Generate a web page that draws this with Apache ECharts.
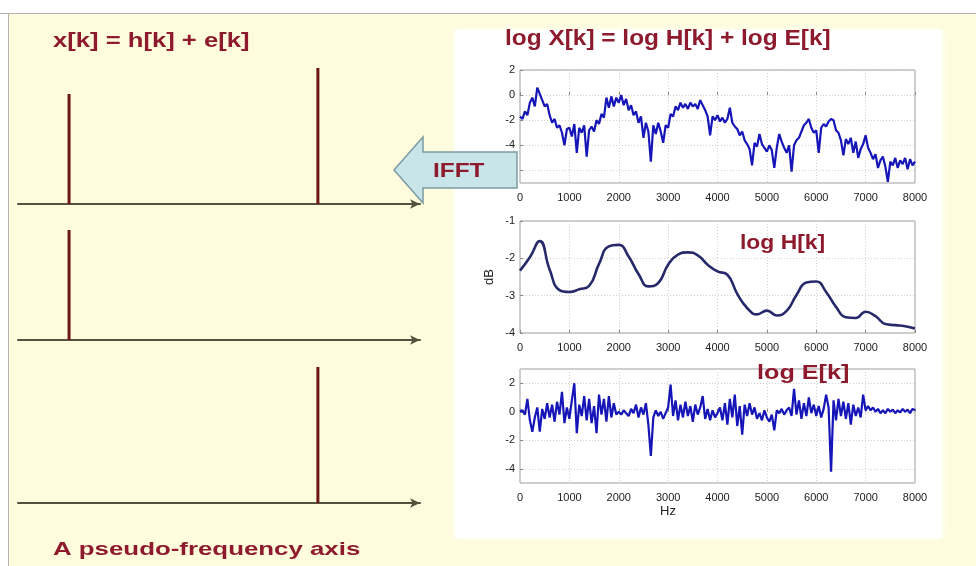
<!DOCTYPE html>
<html>
<head>
<meta charset="utf-8">
<script src="https://cdn.jsdelivr.net/npm/echarts@6/dist/echarts.min.js"></script>
<style>
  html, body { margin: 0; padding: 0; background: #ffffff; }
  #chart { width: 976px; height: 566px; }
</style>
</head>
<body>
<div id="chart"></div>
<script>
// Cepstral view of speech: the pseudo-frequency (quefrency) picture on the left,
// x[k] = h[k] + e[k], and the log spectra log X = log H + log E on the right.

// Left panel: stem positions on the pseudo-frequency axis and stem heights
const stemPositions = [12.7, 74.6];      // h-stem, e-stem
const hStemHeight = 1.1;
const eStemHeight = 1.36;

// Right panel: frequency grid
const freqMaxHz = 8000;
const freqTickHz = 1000;
const spectrumStepHz = 50;
const envelopeStepHz = 200;

// log X[k], one value every 50 Hz from 0 to 8000 Hz
const logX = [
  -1.7, -1.9, -1.3, -1.6, -0.6, -0.2, -0.9, 0.6, 0.1, -0.4, -0.9, -0.7, -1.6, -2.2, -1.9, -2.6, -2.4, -3.0, -4.0, -2.7,
  -2.6, -3.3, -2.3, -4.6, -2.6, -3.0, -2.4, -4.9, -2.8, -2.5, -2.9, -2.0, -2.3, -1.5, -1.8, -0.2, -1.0, -0.1, -0.9, -0.2,
  -0.6, 0.0, -0.8, -0.3, -1.2, -0.8, -1.6, -1.3, -2.2, -1.7, -3.4, -2.2, -2.9, -5.3, -2.4, -3.1, -2.2, -2.9, -3.8, -2.4,
  -2.6, -1.5, -1.7, -0.9, -1.2, -0.6, -1.0, -0.7, -1.1, -0.6, -0.9, -0.7, -1.1, -0.4, -0.8, -1.2, -1.7, -3.2, -1.7, -2.0,
  -1.6, -2.1, -1.8, -2.2, -1.9, -1.0, -2.2, -2.5, -2.7, -3.2, -2.9, -3.6, -3.9, -4.3, -5.6, -3.8, -4.1, -3.1, -3.9, -4.2,
  -4.5, -4.0, -4.4, -5.8, -4.2, -3.1, -3.7, -4.2, -4.6, -4.0, -6.1, -4.0, -3.6, -3.4, -2.9, -2.4, -2.2, -1.9, -2.6, -3.0,
  -2.8, -4.6, -2.6, -2.3, -2.5, -2.1, -1.9, -2.0, -2.8, -3.0, -3.6, -4.8, -3.5, -3.9, -3.4, -4.6, -3.7, -5.0, -4.3, -3.9,
  -3.2, -4.2, -4.6, -5.1, -4.7, -5.8, -5.2, -4.9, -5.7, -6.9, -5.3, -5.6, -5.0, -5.8, -5.2, -5.5, -5.0, -5.9, -5.1, -5.6,
  -5.3
];

// log H[k] (spectral envelope), one value every 200 Hz from 0 to 8000 Hz
const logH = [
  -2.33, -1.97, -1.54, -2.30, -2.85, -2.90, -2.83, -2.74, -2.15, -1.68,
  -1.64, -1.95, -2.42, -2.75, -2.66, -2.17, -1.90, -1.84, -1.92, -2.17,
  -2.35, -2.44, -2.95, -3.33, -3.50, -3.40, -3.53, -3.41, -2.98, -2.65,
  -2.62, -2.90, -3.30, -3.58, -3.60, -3.43, -3.55, -3.76, -3.79, -3.82,
  -3.88
];

// log E[k] (excitation), one value every 50 Hz from 0 to 8000 Hz
const logE = [
  0.0, 0.1, -0.2, 0.9, -0.6, -1.4, -0.4, 0.3, -1.4, 0.2, -0.5, 0.6, -0.4, 0.5, -0.7, 0.7, -0.2, 1.4, -0.8, 0.3,
  -0.5, 0.8, 2.0, -1.5, 0.5, -0.3, 1.1, -0.6, 0.9, -0.8, 0.4, -1.5, 1.2, -0.2, 0.9, -0.7, 1.1, -0.4, 0.6, -0.2,
  0.0, -0.2, 0.1, -0.1, -0.3, 0.2, -0.1, 0.5, -0.4, 0.3, -0.2, 0.6, -0.9, -3.1, -0.4, 0.1, -0.3, 0.0, -0.5, -0.1,
  0.3, 1.9, -0.3, 0.8, -0.6, 0.5, -0.4, 0.7, -0.3, 0.4, -0.7, 0.5, -0.2, 0.3, 1.1, -0.5, 0.2, -0.6, 0.1, -0.4,
  -0.1, 0.3, -0.6, 0.6, -0.9, 0.9, -0.4, 1.2, -1.0, 0.4, -1.6, 0.5, -0.3, 0.6, -0.2, 0.3, -0.5, -0.1, -0.6, 0.1,
  -0.4, -0.7, -0.2, -1.3, 0.1, -0.1, 0.2, -0.2, 0.1, 0.3, -0.3, 1.6, -0.2, 0.8, -0.5, 0.6, -0.3, 1.0, -0.1, 0.5,
  -0.3, 0.4, -0.4, 0.2, 1.2, 0.3, -4.2, 0.8, -0.6, 0.9, -0.3, 0.7, -0.5, 0.6, -0.9, 0.5, -0.3, 0.3, -0.4, 1.2,
  0.1, 0.4, 0.1, 0.3, 0.0, 0.2, -0.1, 0.1, -0.1, 0.2, 0.0, 0.15, -0.1, 0.1, -0.05, 0.2, 0.0, 0.15, -0.1, 0.2,
  0.1
];

const toPairs = (values, step) => values.map((v, i) => [i * step, v]);

const RED = '#8e1b2d';
const STEM = '#6b1717';
const TRACE = '#1616b8';
const FONT = "'Liberation Sans', Arial, sans-serif";

const chart = echarts.init(document.getElementById('chart'), null, { renderer: 'canvas' });

// ----- left panel: three pseudo-frequency axes -----
const leftGrids = [
  { left: 18, top: 54, width: 402, height: 150 },
  { left: 18, top: 190, width: 402, height: 150 },
  { left: 18, top: 353, width: 402, height: 150 }
];
// ----- right panel: three spectra -----
const rightGrids = [
  { left: 520, top: 70, width: 395, height: 113 },
  { left: 520, top: 221, width: 395, height: 112 },
  { left: 520, top: 369, width: 395, height: 114 }
];

const grids = leftGrids.map(g => Object.assign({ outerBoundsMode: 'none', containLabel: false }, g))
  .concat(rightGrids.map(g => Object.assign({
    show: true, backgroundColor: '#ffffff', borderColor: '#9d9d9d', borderWidth: 1,
    outerBoundsMode: 'none', containLabel: false
  }, g)));

const leftXAxis = i => ({
  type: 'value', gridIndex: i, min: 0, max: 100,
  axisLine: {
    show: true, onZero: false, symbol: ['none', 'arrow'], symbolSize: [7, 10],
    lineStyle: { color: '#55513d', width: 2 }
  },
  axisTick: { show: false }, axisLabel: { show: false }, splitLine: { show: false }
});
const leftYAxis = i => ({ type: 'value', gridIndex: i, min: 0, max: 1.5, show: false });

const plainNumber = v => String(v);
const tickLabel = { color: '#222222', fontSize: 11, fontFamily: FONT, formatter: plainNumber };
const gridLine = { show: true, lineStyle: { color: '#d0d0d0', type: [1, 2], width: 1 } };
const inTick = { show: true, inside: true, length: 3, lineStyle: { color: '#8a8a8a' } };

const rightXAxis = i => ({
  type: 'value', gridIndex: i, min: 0, max: freqMaxHz, interval: freqTickHz,
  axisLine: { show: false },
  axisTick: inTick,
  axisLabel: Object.assign({ margin: 9 }, tickLabel),
  splitLine: gridLine
});
const rightYAxis = (i, extra) => Object.assign({
  type: 'value', gridIndex: i,
  axisLine: { show: false },
  axisTick: inTick,
  axisLabel: Object.assign({ margin: 5 }, tickLabel),
  splitLine: gridLine
}, extra);

const option = {
  backgroundColor: '#fefcdc',
  animation: false,
  grid: grids,
  xAxis: [leftXAxis(0), leftXAxis(1), leftXAxis(2), rightXAxis(3), rightXAxis(4), rightXAxis(5)],
  yAxis: [
    leftYAxis(0), leftYAxis(1), leftYAxis(2),
    rightYAxis(3, { min: -7, max: 2, splitNumber: 5,
      axisLabel: Object.assign({ margin: 5, showMinLabel: false }, tickLabel) }),
    rightYAxis(4, { min: -4, max: -1, interval: 1,
      name: 'dB', nameLocation: 'middle', nameGap: 24, nameRotate: 90,
      nameTextStyle: { color: '#222222', fontSize: 13, fontFamily: FONT } }),
    rightYAxis(5, { min: -5, max: 3, splitNumber: 4,
      axisLabel: Object.assign({ margin: 5, showMinLabel: false, showMaxLabel: false }, tickLabel) })
  ],
  series: [
    { // x[k] = h[k] + e[k]
      type: 'bar', xAxisIndex: 0, yAxisIndex: 0, barWidth: 3, silent: true,
      itemStyle: { color: STEM },
      data: [[stemPositions[0], hStemHeight], [stemPositions[1], eStemHeight]]
    },
    { // h[k]
      type: 'bar', xAxisIndex: 1, yAxisIndex: 1, barWidth: 3, silent: true,
      itemStyle: { color: STEM },
      data: [[stemPositions[0], hStemHeight]]
    },
    { // e[k]
      type: 'bar', xAxisIndex: 2, yAxisIndex: 2, barWidth: 3, silent: true,
      itemStyle: { color: STEM },
      data: [[stemPositions[1], eStemHeight]]
    },
    {
      name: 'log X[k]', type: 'line', xAxisIndex: 3, yAxisIndex: 3,
      showSymbol: false, silent: true,
      lineStyle: { color: TRACE, width: 2.2 },
      data: toPairs(logX, spectrumStepHz)
    },
    {
      name: 'log H[k]', type: 'line', xAxisIndex: 4, yAxisIndex: 4,
      showSymbol: false, silent: true, smooth: 0.5,
      lineStyle: { color: '#272a6a', width: 2.6 },
      data: toPairs(logH, envelopeStepHz)
    },
    {
      name: 'log E[k]', type: 'line', xAxisIndex: 5, yAxisIndex: 5,
      showSymbol: false, silent: true,
      lineStyle: { color: TRACE, width: 2.2 },
      data: toPairs(logE, spectrumStepHz)
    }
  ],
  graphic: {
    elements: [
      // page frame and the white panel behind the spectra
      { type: 'rect', silent: true, z: -20, shape: { x: 0, y: 0, width: 976, height: 13 }, style: { fill: '#ffffff' } },
      { type: 'rect', silent: true, z: -20, shape: { x: 0, y: 13, width: 8, height: 553 }, style: { fill: '#ffffff' } },
      { type: 'rect', silent: true, z: -19, shape: { x: 455, y: 30, width: 487, height: 508 },
        style: { fill: '#ffffff', shadowBlur: 8, shadowColor: 'rgba(255,255,255,0.9)' } },
      { type: 'line', silent: true, z: -18, shape: { x1: 0, y1: 13.5, x2: 976, y2: 13.5 }, style: { stroke: '#b2b2b2', lineWidth: 1 } },
      { type: 'line', silent: true, z: -18, shape: { x1: 8.5, y1: 13, x2: 8.5, y2: 566 }, style: { stroke: '#b2b2b2', lineWidth: 1 } },

      // IFFT arrow
      { type: 'polygon', silent: true, z: 50,
        shape: { points: [[394, 170], [423, 137], [423, 152], [517, 152], [517, 188], [423, 188], [423, 203]] },
        style: { fill: '#c8e5ea', stroke: '#7d9aa3', lineWidth: 1.5 } },
      { type: 'text', silent: true, z: 51, x: 433, y: 171, scaleX: 1.22,
        style: { text: 'IFFT', font: 'bold 20px ' + FONT, fill: RED, verticalAlign: 'middle' } },

      // headings and labels
      { type: 'text', silent: true, z: 51, x: 53, y: 41, scaleX: 1.22,
        style: { text: 'x[k] = h[k] + e[k]', font: 'bold 21px ' + FONT, fill: RED, verticalAlign: 'middle' } },
      { type: 'text', silent: true, z: 51, x: 505, y: 39, scaleX: 1.11,
        style: { text: 'log X[k] = log H[k] + log E[k]', font: 'bold 22px ' + FONT, fill: RED, verticalAlign: 'middle' } },
      { type: 'text', silent: true, z: 51, x: 53, y: 550, scaleX: 1.36,
        style: { text: 'A pseudo-frequency axis', font: 'bold 19px ' + FONT, fill: RED, verticalAlign: 'middle' } },
      { type: 'text', silent: true, z: 51, x: 740, y: 243, scaleX: 1.09,
        style: { text: 'log H[k]', font: 'bold 21px ' + FONT, fill: RED, verticalAlign: 'middle' } },
      { type: 'text', silent: true, z: 51, x: 757, y: 373, scaleX: 1.2,
        style: { text: 'log E[k]', font: 'bold 21px ' + FONT, fill: RED, verticalAlign: 'middle' } },
      { type: 'text', silent: true, z: 51, x: 668, y: 511,
        style: { text: 'Hz', font: '13px ' + FONT, fill: '#222222', align: 'center', verticalAlign: 'middle' } }
    ]
  }
};

chart.setOption(option);
</script>
</body>
</html>
